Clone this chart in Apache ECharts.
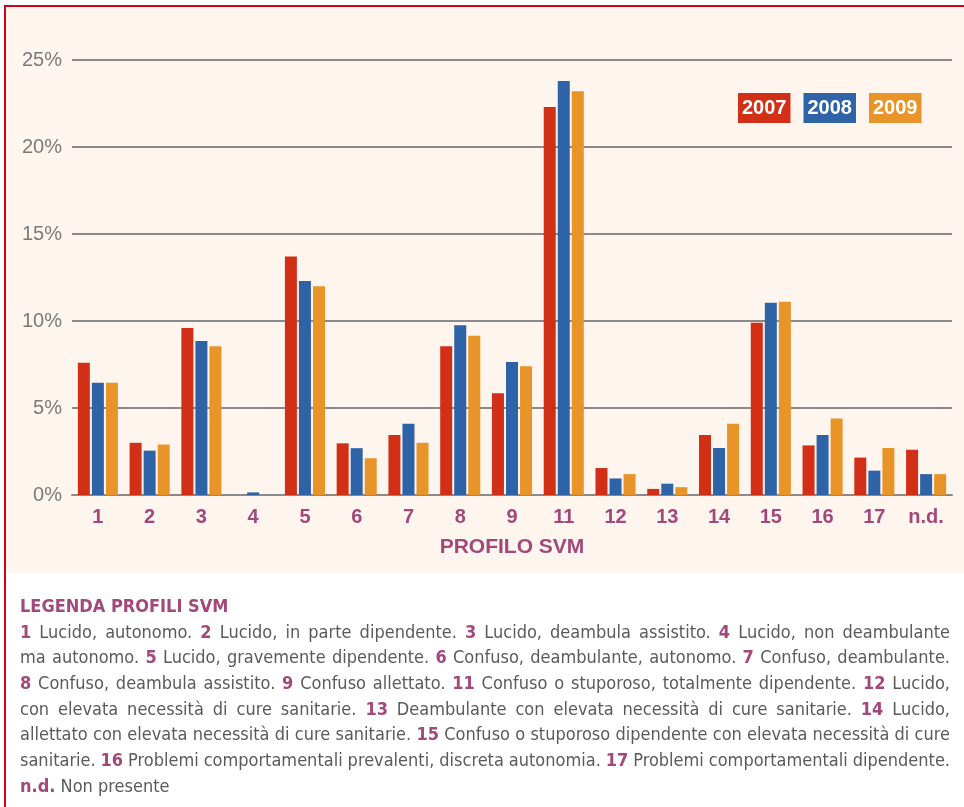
<!DOCTYPE html>
<html>
<head>
<meta charset="utf-8">
<script src="https://cdn.jsdelivr.net/npm/echarts@6/dist/echarts.min.js"></script>
<style>html,body{margin:0;padding:0;background:#fff}#c{width:964px;height:807px}</style>
</head>
<body>
<div id="c"></div>
<script>
const categories = ['1','2','3','4','5','6','7','8','9','11','12','13','14','15','16','17','n.d.'];
const seriesNames = ['2007','2008','2009'];
const v2007 = [7.6, 3.0, 9.6, 0, 13.7, 2.97, 3.45, 8.55, 5.85, 22.3, 1.55, 0.35, 3.45, 9.9, 2.85, 2.15, 2.6];
const v2008 = [6.45, 2.55, 8.85, 0.15, 12.3, 2.69, 4.1, 9.75, 7.65, 23.8, 0.95, 0.65, 2.7, 11.05, 3.45, 1.4, 1.2];
const v2009 = [6.45, 2.9, 8.55, 0, 12.0, 2.11, 3.0, 9.15, 7.4, 23.2, 1.2, 0.45, 4.1, 11.1, 4.4, 2.7, 1.2];
const yTicks = [0, 5, 10, 15, 20, 25];
const legendTitle = 'LEGENDA PROFILI SVM';
const legendLines = [
  '1 Lucido, autonomo. 2 Lucido, in parte dipendente. 3 Lucido, deambula assistito. 4 Lucido, non deambulante',
  'ma autonomo. 5 Lucido, gravemente dipendente. 6 Confuso, deambulante, autonomo. 7 Confuso, deambulante.',
  '8 Confuso, deambula assistito. 9 Confuso allettato. 11 Confuso o stuporoso, totalmente dipendente. 12 Lucido,',
  'con elevata necessità di cure sanitarie. 13 Deambulante con elevata necessità di cure sanitarie. 14 Lucido,',
  'allettato con elevata necessità di cure sanitarie. 15 Confuso o stuporoso dipendente con elevata necessità di cure',
  'sanitarie. 16 Problemi comportamentali prevalenti, discreta autonomia. 17 Problemi comportamentali dipendente.',
  'n.d. Non presente'
];

const colors = ['#d22f17', '#2f63a8', '#e89428'];
const purple = '#a3487a';
const bodyGrey = '#5a5a5a';
const narrowFamily = '"Liberation Sans Narrow", "DejaVu Sans Condensed", "Arial Narrow", sans-serif';
const mainFamily = '"Liberation Sans", Arial, sans-serif';

// --- build justified legend text ---
const ctx = document.createElement('canvas').getContext('2d');
const textLeft = 20, textRight = 950;
let fontSize = 20;
function isKey(w) { return /^\d+$/.test(w) || w === 'n.d.'; }
function fontFor(w, fs) { return (isKey(w) ? 'bold ' : '') + fs + 'px ' + narrowFamily; }
function measure(w, fs) { ctx.font = fontFor(w, fs); return ctx.measureText(w).width; }
for (let k = 0; k < 10; k++) {
  let maxW = 0;
  legendLines.forEach(l => {
    const ws = l.split(' ');
    const sp = measure(' ', fontSize) * 0.8;
    const tw = ws.reduce((a, w) => a + measure(w, fontSize), 0) + sp * (ws.length - 1);
    maxW = Math.max(maxW, tw);
  });
  if (maxW > textRight - textLeft) fontSize -= 0.5; else break;
}
const graphics = [];
graphics.push({ type: 'rect', z: -10, silent: true, shape: { x: 5, y: 7, width: 959, height: 566 }, style: { fill: '#fdf5ee' } });
graphics.push({ type: 'rect', z: 10, silent: true, shape: { x: 4, y: 5, width: 960, height: 2 }, style: { fill: '#d0021b' } });
graphics.push({ type: 'rect', z: 10, silent: true, shape: { x: 4, y: 5, width: 2, height: 802 }, style: { fill: '#d0021b' } });
graphics.push({ type: 'text', left: textLeft, top: 598, style: { text: legendTitle, font: 'bold 18px ' + narrowFamily, fill: purple } });
const lineY0 = 633, lineH = 25.7;
legendLines.forEach((line, i) => {
  const ws = line.split(' ');
  const widths = ws.map(w => measure(w, fontSize));
  const total = widths.reduce((a, b) => a + b, 0);
  const justify = i < legendLines.length - 1;
  const gap = justify ? (textRight - textLeft - total) / (ws.length - 1) : measure(' ', fontSize);
  let x = textLeft;
  ws.forEach((w, j) => {
    graphics.push({
      type: 'text', x: x, y: lineY0 + i * lineH,
      style: { text: w, font: fontFor(w, fontSize), fill: isKey(w) ? purple : bodyGrey, verticalAlign: 'middle', align: 'left' }
    });
    x += widths[j] + gap;
  });
});

const chart = echarts.init(document.getElementById('c'), null, { renderer: 'canvas' });
const data = [v2007, v2008, v2009];
chart.setOption({
  backgroundColor: '#ffffff',
  animation: false,
  color: colors,
  grid: { left: 72, right: 12, top: 60, bottom: 312, containLabel: false },
  legend: {
    left: 728, top: 88, orient: 'horizontal', itemGap: 8,
    icon: 'rect', itemWidth: 0, itemHeight: 0,
    data: seriesNames.map((n, i) => ({
      name: n,
      textStyle: { backgroundColor: colors[i], color: '#fff', fontWeight: 'bold', fontSize: 20, fontFamily: mainFamily, padding: [4, 4, 3, 4], lineHeight: 23 }
    }))
  },
  xAxis: {
    type: 'category', data: categories,
    axisTick: { show: false },
    axisLine: { show: true, lineStyle: { color: '#8a8a8a', width: 2 } },
    axisLabel: { color: purple, fontWeight: 'bold', fontSize: 20, fontFamily: mainFamily, margin: 12 },
    name: 'PROFILO SVM', nameLocation: 'middle', nameGap: 42,
    nameTextStyle: { color: purple, fontWeight: 'bold', fontSize: 21, fontFamily: mainFamily }
  },
  yAxis: {
    type: 'value', min: 0, max: 25, interval: 5,
    axisLine: { show: false }, axisTick: { show: false },
    axisLabel: { color: '#7a7a7a', fontSize: 20, fontFamily: mainFamily, margin: 10, formatter: '{value}%' },
    splitLine: { lineStyle: { color: '#8a8a8a', width: 2 } }
  },
  series: seriesNames.map((n, i) => ({
    name: n, type: 'bar', data: data[i], barWidth: 12, barGap: '17%',
    itemStyle: { color: colors[i] }
  })),
  graphic: graphics
});
</script>
</body>
</html>
